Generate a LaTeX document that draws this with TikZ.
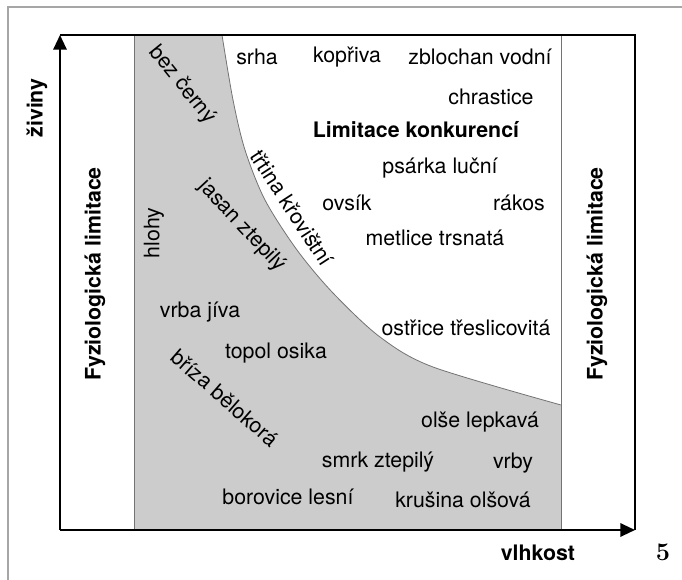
\documentclass[tikz,border=0pt]{standalone}
\usepackage{fontspec}
\setsansfont{TeX Gyre Heros}
\usetikzlibrary{arrows.meta}
\tikzset{plant/.style={font=\sffamily\fontsize{16}{19}\selectfont,inner sep=0pt},
	lab/.style={font=\sffamily\bfseries\fontsize{16}{19}\selectfont,inner sep=0pt},
	axis/.style={line width=1.6pt,-{Triangle[length=11pt,width=10pt]}},
	zone/.style={draw=black!55,line width=0.6pt}}
\definecolor{zonegray}{gray}{0.8}

\begin{document}
\begin{tikzpicture}[x=0.75pt,y=-0.75pt]
	\useasboundingbox (0,0) rectangle (682,580);
	\draw [black!35, line width=1.2pt] (8,580) -- (8,7) -- (682,7);
	
	\coordinate (o) at (60,530);
	\coordinate (ytop) at (60,35);
	\coordinate (xend) at (635,530);
	\coordinate (corner) at (635,35);
	
	\fill [zonegray] (134,530) -- (134,35) -- plot [smooth] coordinates {(222,35) (233,100) (245,150) (265,200) (297,250) (333,293) (380,337) (433,367) (561,405)} -- (561,530) -- cycle;
	\draw [zone] plot [smooth] coordinates {(222,35) (233,100) (245,150) (265,200) (297,250) (333,293) (380,337) (433,367) (561,405)};
	\draw [zone] (134,35) -- (134,530);
	\draw [zone] (561,35) -- (561,530);
	
	\draw [line width=0.8pt] (ytop) -- (corner) -- (xend);
	\draw [axis] (o) -- (ytop);
	\draw [axis] (o) -- (xend);
	
	\node [lab, rotate=90] (ziviny) at (37,108) {živiny};
	\node [lab] (vlhkost) at (538,553) {vlhkost};
	\node [font=\bfseries\fontsize{19}{22}\selectfont, inner sep=0pt] (num) at (663,552) {5};
	\node [lab, rotate=90] (fyzL) at (95,274) {Fyziologická limitace};
	\node [lab, rotate=90] (fyzR) at (597,274) {Fyziologická limitace};
	\node [lab] (konk) at (416,130) {Limitace konkurencí};
	
	\foreach \x/\y/\t [count=\i] in {257/57/srha, 347/57/kopřiva, 480/57/zblochan vodní, 491/97/chrastice, 440/168/psárka luční, 347/203/ovsík, 519/203/rákos, 435/238/metlice trsnatá, 466/328/ostřice třeslicovitá, 480/422/olše lepkavá, 513/463/vrby, 378/462/smrk ztepilý, 463/500/krušina olšová, 288/497/borovice lesní, 200/312/vrba jíva, 276/353/topol osika}
		\node [plant] (p\i) at (\x,\y) {\t};
	
	\node [plant, rotate=-41] (briza) at (225,398) {bříza bělokorá};
	\node [plant, rotate=90] (hlohy) at (154,233) {hlohy};
	\node [plant, rotate=-47] (jasan) at (242,226) {jasan ztepilý};
	\node [plant, rotate=-51] (bez) at (182,85) {bez černý};
	\node [plant, rotate=-57] (trtina) at (292,208) {třtina křovištní};
\end{tikzpicture}
\end{document}
